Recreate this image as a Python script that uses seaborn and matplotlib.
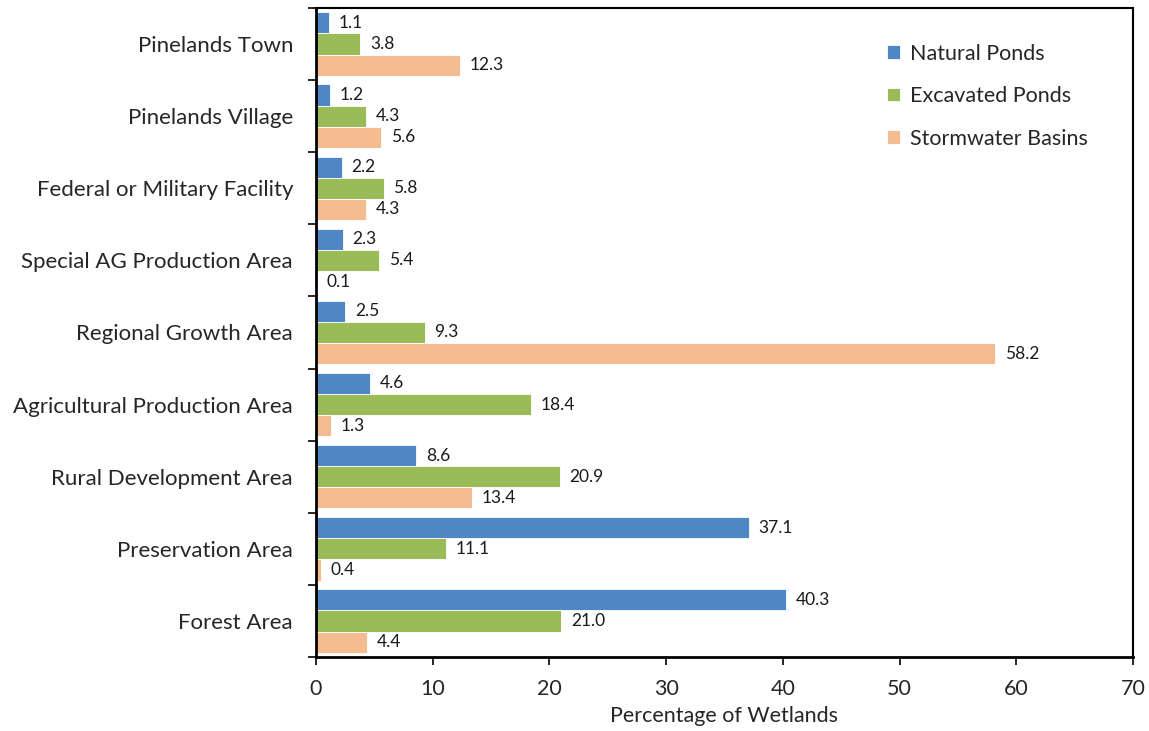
import matplotlib
matplotlib.use("Agg")
import matplotlib.pyplot as plt
import seaborn as sns
import pandas as pd
import numpy as np

categories = [
    "Pinelands Town",
    "Pinelands Village",
    "Federal or Military Facility",
    "Special AG Production Area",
    "Regional Growth Area",
    "Agricultural Production Area",
    "Rural Development Area",
    "Preservation Area",
    "Forest Area",
]
series_names = ["Natural Ponds", "Excavated Ponds", "Stormwater Basins"]
natural_ponds = [1.1, 1.2, 2.2, 2.3, 2.5, 4.6, 8.6, 37.1, 40.3]
excavated_ponds = [3.8, 4.3, 5.8, 5.4, 9.3, 18.4, 20.9, 11.1, 21.0]
stormwater_basins = [12.3, 5.6, 4.3, 0.1, 58.2, 1.3, 13.4, 0.4, 4.4]
x_ticks = [0, 10, 20, 30, 40, 50, 60, 70]

colors = ["#4F86C6", "#9BBB59", "#F5BD8F"]

df = pd.DataFrame({
    "Land Use": categories * 3,
    "Series": np.repeat(series_names, len(categories)),
    "Value": natural_ponds + excavated_ponds + stormwater_basins,
})

sns.set_style("white")
plt.rcParams["font.family"] = ["Lato", "DejaVu Sans"]

fig = plt.figure(figsize=(11.49, 7.31), dpi=100)
ax = fig.add_axes([316 / 1149, 1 - 657 / 731, (1133 - 316) / 1149, (657 - 8) / 731])

sns.barplot(
    data=df, y="Land Use", x="Value", hue="Series",
    order=categories, hue_order=series_names,
    palette=colors, width=0.88, orient="h", ax=ax,
    saturation=1, edgecolor="white", linewidth=0.6,
)

for container in ax.containers:
    ax.bar_label(container, fmt="%.1f", padding=7, fontsize=12.5, color="#1a1a1a")

ax.set_xlim(0, 70)
ax.set_ylim(len(categories) - 0.5, -0.5)
ax.set_xticks(x_ticks)
ax.set_xticklabels([str(t) for t in x_ticks], fontsize=15.5)
ax.set_xlabel("Percentage of Wetlands", fontsize=15.5, labelpad=5)
ax.set_ylabel("")
ax.tick_params(axis="y", which="major", length=0, pad=16.5, labelsize=16)
ax.set_yticks(np.arange(-0.5, len(categories), 1.0), minor=True)
ax.tick_params(axis="y", which="minor", length=6, width=1.2, direction="out", color="black")
ax.tick_params(axis="x", which="major", length=6, width=1.2, direction="out", color="black", pad=10)
ax.yaxis.set_ticks_position("left")
ax.xaxis.set_ticks_position("bottom")

for side in ["left", "bottom"]:
    ax.spines[side].set_color("black")
    ax.spines[side].set_linewidth(2)
for side in ["top", "right"]:
    ax.spines[side].set_color("black")
    ax.spines[side].set_linewidth(1.5)

leg = ax.legend(
    loc="upper right", bbox_to_anchor=(0.969, 0.975), frameon=False,
    fontsize=15.5, handlelength=0.6, handleheight=0.6, handletextpad=0.5,
    labelspacing=1.05,
)

fig.savefig("out.png", dpi=100)
